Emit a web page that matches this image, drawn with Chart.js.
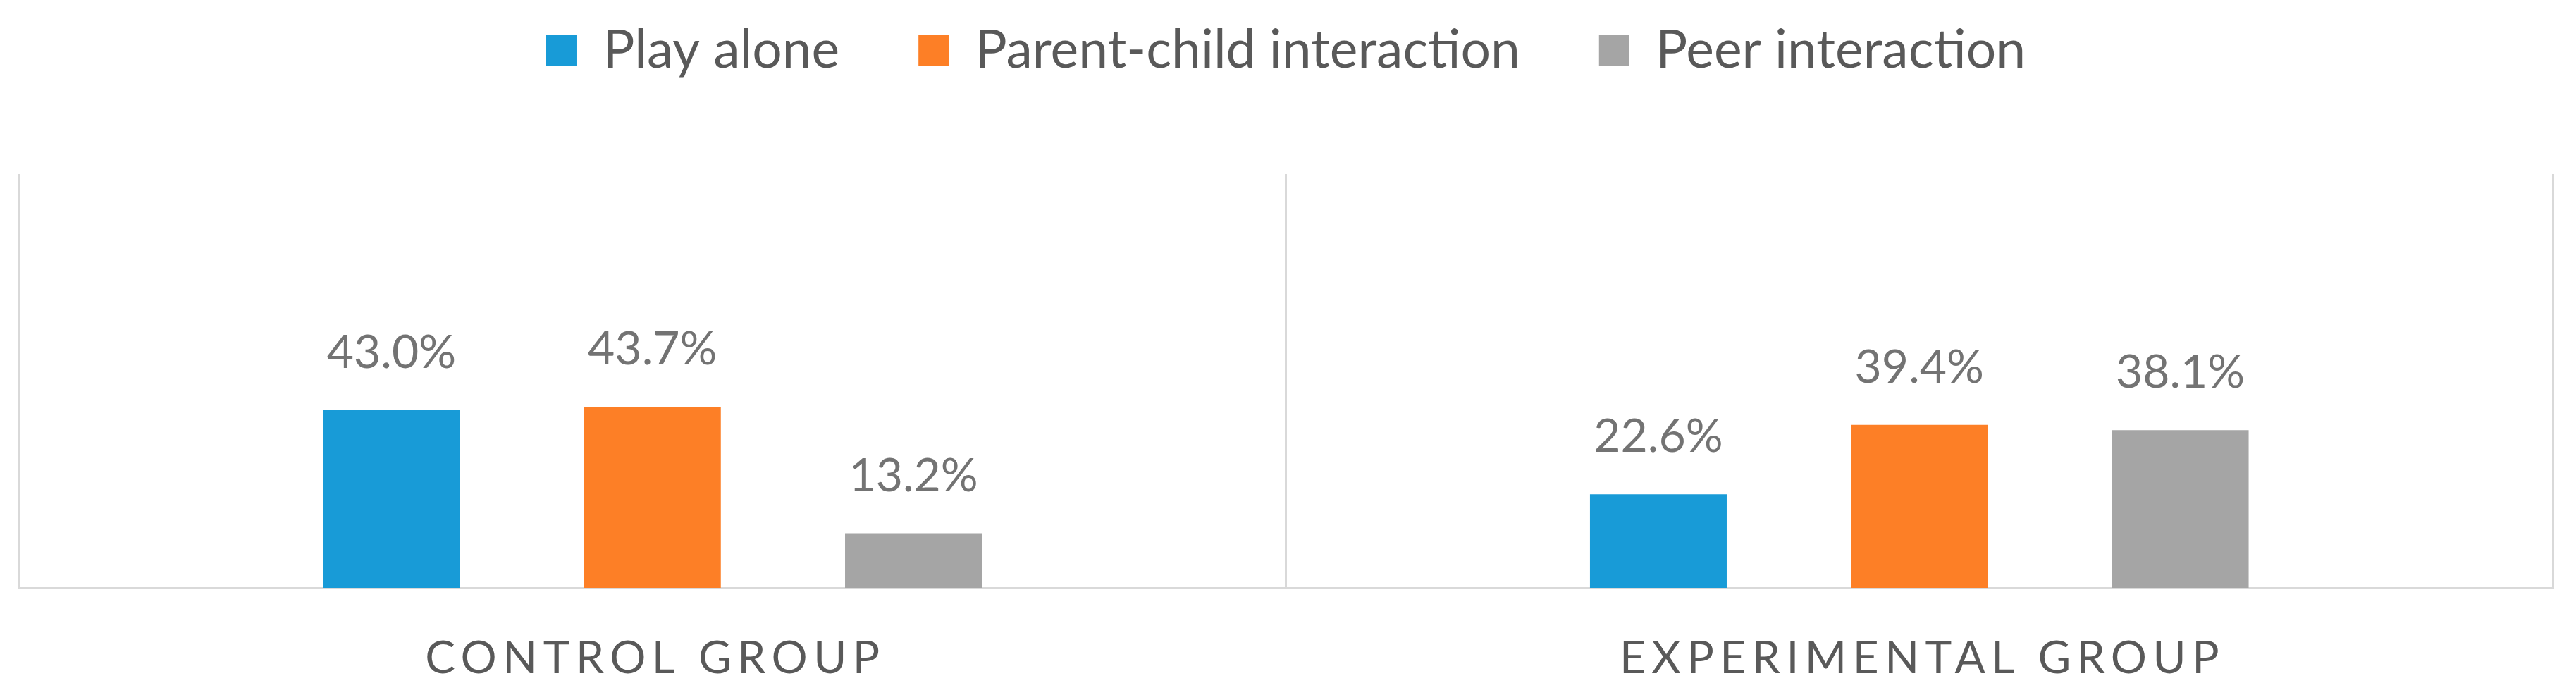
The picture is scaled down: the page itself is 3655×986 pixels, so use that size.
<!DOCTYPE html>
<html lang="en">
<head>
<meta charset="utf-8">
<title>Play types by group</title>
<script src="https://cdn.jsdelivr.net/npm/chart.js@4.4.1/dist/chart.umd.min.js"></script>
<style>
  html, body { margin: 0; padding: 0; background: #ffffff; }
  #wrap { width: 3655px; height: 986px; }
</style>
</head>
<body>
<div id="wrap"><canvas id="chart"></canvas></div>
<script>
const groups = ['CONTROL GROUP', 'EXPERIMENTAL GROUP'];
const seriesNames = ['Play alone', 'Parent-child interaction', 'Peer interaction'];
const playAlone = [43.0, 22.6];
const parentChild = [43.7, 39.4];
const peerInteraction = [13.2, 38.1];
const seriesColors = ['#189bd7', '#fd7f26', '#a5a5a5'];
const yMin = 0;
const yMax = 100;

// percentages above each bar
const valueLabels = {
    id: 'valueLabels',
    afterDatasetsDraw(chart) {
        const ctx = chart.ctx;
        ctx.save();
        ctx.font = '66px Lato, sans-serif';
        ctx.fillStyle = '#737373';
        ctx.textAlign = 'center';
        ctx.textBaseline = 'alphabetic';
        chart.data.datasets.forEach((ds, i) => {
            chart.getDatasetMeta(i).data.forEach((bar, j) => {
                ctx.fillText(ds.data[j].toFixed(1) + '%', bar.x, bar.y - 60);
            });
        });
        ctx.restore();
    }
};

// category names, drawn with letter spacing
const groupLabels = {
    id: 'groupLabels',
    afterDraw(chart) {
        const ctx = chart.ctx;
        const xScale = chart.scales.x;
        const spacing = 8.5;
        ctx.save();
        ctx.font = '64px Lato, sans-serif';
        ctx.letterSpacing = spacing + 'px';
        ctx.fillStyle = '#595959';
        ctx.textAlign = 'center';
        ctx.textBaseline = 'alphabetic';
        groups.forEach((g, i) => {
            ctx.fillText(g, xScale.getPixelForValue(i) + spacing / 2, chart.chartArea.bottom + 121);
        });
        ctx.restore();
    }
};

// extra room between the legend and the plot
const legendGap = {
    id: 'legendGap',
    beforeInit(chart) {
        const fit = chart.legend.fit;
        chart.legend.fit = function () {
            fit.call(this);
            this.height += 128;
        };
    }
};

new Chart(document.getElementById('chart'), {
    type: 'bar',
    data: {
        labels: groups,
        datasets: [
            { label: seriesNames[0], data: playAlone, backgroundColor: seriesColors[0] },
            { label: seriesNames[1], data: parentChild, backgroundColor: seriesColors[1] },
            { label: seriesNames[2], data: peerInteraction, backgroundColor: seriesColors[2] }
        ]
    },
    options: {
        responsive: true,
        maintainAspectRatio: false,
        animation: false,
        datasets: {
            bar: { categoryPercentage: 0.618, barPercentage: 0.524, borderWidth: 0 }
        },
        layout: { padding: { top: -78, left: 27, right: 33, bottom: 152 } },
        plugins: {
            tooltip: { enabled: false },
            legend: {
                position: 'top',
                labels: {
                    font: { family: 'Lato', size: 75 },
                    color: '#595959',
                    boxWidth: 43,
                    boxHeight: 43,
                    padding: 112
                }
            }
        },
        scales: {
            x: {
                grid: { display: true, offset: true, color: '#d9d9d9', lineWidth: 3, drawTicks: false },
                border: { display: true, color: '#d9d9d9', width: 3 },
                ticks: { display: false }
            },
            y: {
                display: false,
                min: yMin,
                max: yMax
            }
        }
    },
    plugins: [legendGap, valueLabels, groupLabels]
});
</script>
</body>
</html>
